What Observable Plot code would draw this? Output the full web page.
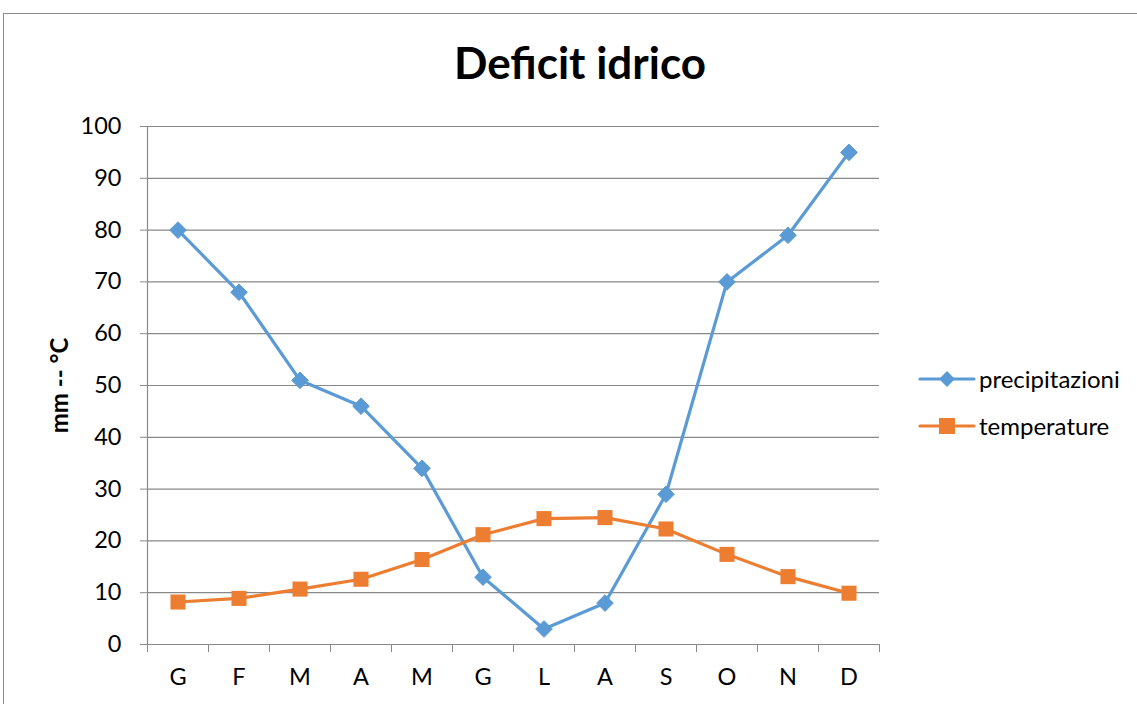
<!DOCTYPE html>
<html>
<head>
<meta charset="utf-8">
<script src="https://cdn.jsdelivr.net/npm/d3@7"></script>
<script src="https://cdn.jsdelivr.net/npm/@observablehq/plot@0.6"></script>
<style>
  html, body { margin: 0; padding: 0; background: #fff; width: 1137px; height: 704px; overflow: hidden; }
  body { position: relative; font-family: Lato, "Open Sans", sans-serif; }
  #frame { position: absolute; left: 3px; top: 13px; width: 1200px; height: 800px; border: 1px solid #8c8c8c; box-sizing: border-box; }
  #title { position: absolute; top: 36px; left: 0; width: 1160px; text-align: center; font-size: 44px; font-weight: bold; color: #000; }
  #chart { position: absolute; left: 0; top: 100px; }
  .leg { position: absolute; left: 918px; display: flex; align-items: center; font-size: 24px; color: #000; }
  .leg svg { margin-right: 3px; }
</style>
</head>
<body>
<div id="frame"></div>
<div id="title">Deficit idrico</div>
<div id="chart"></div>
<div class="leg" id="leg1" style="top:364px"></div>
<div class="leg" id="leg2" style="top:411px"></div>
<script>
const months = ["G","F","M","A","M","G","L","A","S","O","N","D"];
const precipitazioni = [80,68,51,46,34,13,3,8,29,70,79,95];
const temperature = [8.2,8.9,10.7,12.6,16.4,21.2,24.3,24.5,22.3,17.4,13.1,9.9];
const yTicks = [0,10,20,30,40,50,60,70,80,90,100];
const seriesNames = ["precipitazioni","temperature"];
const colors = ["#5B9BD5","#ED7D31"];

const idx = d3.range(months.length);
const rowsP = idx.map(i => ({i, v: precipitazioni[i]}));
const rowsT = idx.map(i => ({i, v: temperature[i]}));
const bounds = d3.range(months.length + 1).map(k => k - 0.5);

const plot = Plot.plot({
  width: 1137,
  height: 604,
  marginTop: 26,
  marginBottom: 60,
  marginLeft: 147,
  marginRight: 258,
  style: { fontFamily: "Lato, 'Open Sans', sans-serif", fontSize: "23px", color: "#000", background: "transparent" },
  x: { type: "linear", domain: [-0.5, months.length - 0.5] },
  y: { domain: [0, 100] },
  marks: [
    Plot.gridY(yTicks, { stroke: "#898989", strokeOpacity: 1, strokeWidth: 1.2 }),
    Plot.axisY(yTicks, { tickSize: 7, tickPadding: 19, stroke: "#898989", strokeOpacity: 1, label: null, fontSize: 23.5, fill: "#000" }),
    Plot.axisX(bounds, { tickSize: 8, tickFormat: () => "", stroke: "#898989", strokeOpacity: 1, label: null }),
    Plot.axisX(idx, { tickSize: 0, tickPadding: 24, tickFormat: i => months[i], label: null, fontSize: 23.5, fill: "#000" }),
    Plot.ruleX([-0.5], { y1: 0, y2: 100, stroke: "#898989", strokeWidth: 1.2 }),
    Plot.text(["mm -- °C"], { frameAnchor: "left", dx: -87, rotate: -90, textAnchor: "middle", fontWeight: "bold", fontSize: 24, fill: "#000" }),
    Plot.line(rowsP, { x: "i", y: "v", stroke: colors[0], strokeWidth: 3.2 }),
    Plot.dot(rowsP, { x: "i", y: "v", symbol: "diamond2", r: 7.5, fill: colors[0], stroke: colors[0], strokeWidth: 1 }),
    Plot.line(rowsT, { x: "i", y: "v", stroke: colors[1], strokeWidth: 3.2 }),
    Plot.dot(rowsT, { x: "i", y: "v", symbol: "square", r: 8.5, fill: colors[1] })
  ]
});
document.getElementById("chart").appendChild(plot);

function legendSwatch(color, kind) {
  const s = d3.create("svg").attr("width", 58).attr("height", 24);
  s.append("line").attr("x1", 2).attr("x2", 56).attr("y1", 12).attr("y2", 12)
    .attr("stroke", color).attr("stroke-width", 3.2).attr("stroke-linecap", "round");
  if (kind === "diamond") {
    s.append("path").attr("d", d3.symbol(d3.symbolDiamond2, 160)()).attr("transform", "translate(29,12)").attr("fill", color);
  } else {
    s.append("rect").attr("x", 21).attr("y", 4).attr("width", 16).attr("height", 16).attr("fill", color);
  }
  return s.node();
}
const l1 = document.getElementById("leg1");
l1.appendChild(legendSwatch(colors[0], "diamond"));
l1.appendChild(Object.assign(document.createElement("span"), { textContent: seriesNames[0] }));
const l2 = document.getElementById("leg2");
l2.appendChild(legendSwatch(colors[1], "square"));
l2.appendChild(Object.assign(document.createElement("span"), { textContent: seriesNames[1] }));
</script>
</body>
</html>
